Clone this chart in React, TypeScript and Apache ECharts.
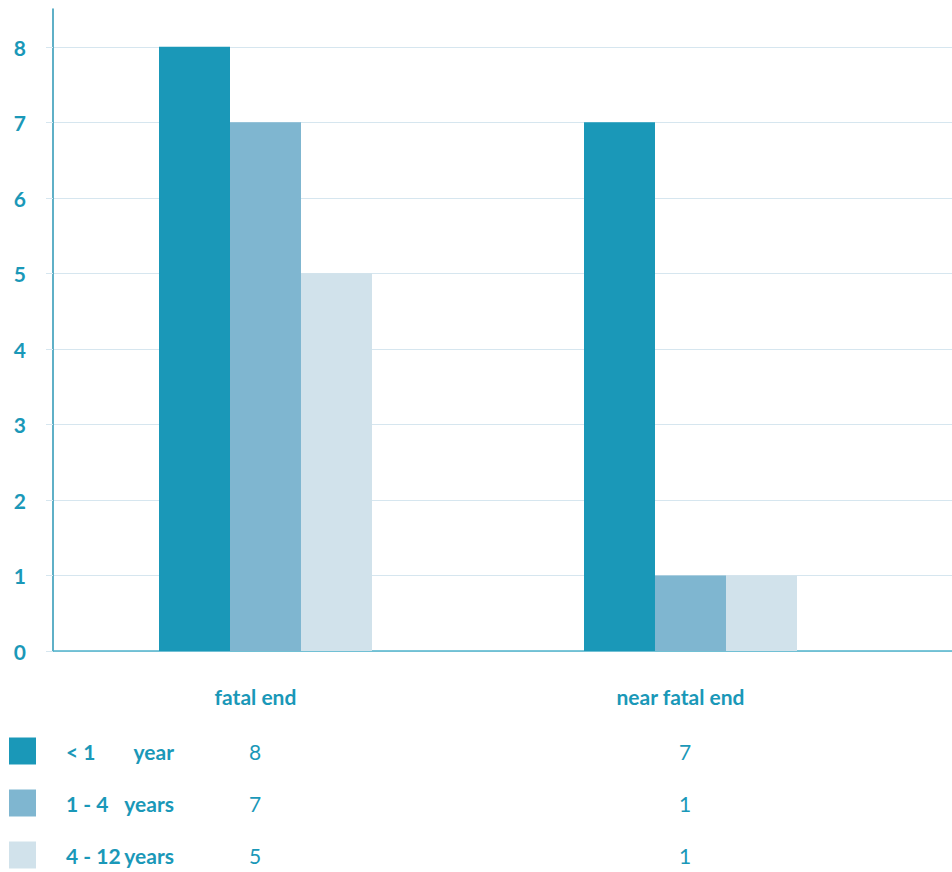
import React, { useEffect, useRef } from "react";
import * as echarts from "echarts";

const categories = ["fatal end", "near fatal end"];
const seriesNames = ["< 1 year", "1 - 4 years", "4 - 12 years"];
const legendLeft = ["< 1", "1 - 4", "4 - 12"];
const legendRight = ["year", "years", "years"];
const lessThan1 = [8, 7];
const oneToFour = [7, 1];
const fourToTwelve = [5, 1];
const yTicks = [0, 1, 2, 3, 4, 5, 6, 7, 8];

const TEAL = "#1a98b8";
const colors = ["#1a98b8", "#7fb6d0", "#d1e2eb"];
const FONT = "Lato, 'Open Sans', sans-serif";

export default function App() {
  const ref = useRef<HTMLDivElement>(null);
  useEffect(() => {
    document.body.style.margin = "0";
    const chart = echarts.init(ref.current!, null, { renderer: "svg" });
    const values = [lessThan1, oneToFour, fourToTwelve];
    const rowY = [751, 803, 855];
    const colX = [255, 685];
    const graphics: any[] = [];
    values.forEach((vals, i) => {
      graphics.push({
        type: "rect",
        shape: { x: 9, y: rowY[i] - 13.5, width: 27, height: 27 },
        style: { fill: colors[i] },
      });
      graphics.push({
        type: "text",
        x: 66,
        y: rowY[i],
        style: { text: legendLeft[i], fill: TEAL, font: `bold 21px ${FONT}`, textVerticalAlign: "middle", textAlign: "left" },
      });
      graphics.push({
        type: "text",
        x: 174,
        y: rowY[i],
        style: { text: legendRight[i], fill: TEAL, font: `bold 21px ${FONT}`, textVerticalAlign: "middle", textAlign: "right" },
      });
      vals.forEach((v, j) => {
        graphics.push({
          type: "text",
          x: colX[j],
          y: rowY[i],
          style: { text: String(v), fill: TEAL, font: `21px ${FONT}`, textVerticalAlign: "middle", textAlign: "center" },
        });
      });
    });

    chart.setOption({
      animation: false,
      grid: [
        { left: 53, right: 0, top: 47, height: 604 },
        { left: 53, width: 850, top: 9, height: 642 },
      ],
      xAxis: [
        {
          gridIndex: 0,
          type: "value",
          min: 0,
          max: 1,
          axisLine: { show: true, lineStyle: { color: "#4fb3cb", width: 1.5 } },
          axisTick: { show: false },
          axisLabel: { show: false },
          splitLine: { show: false },
        },
        {
          gridIndex: 1,
          type: "category",
          data: categories,
          axisLine: { show: false },
          axisTick: { show: false },
          axisLabel: {
            color: TEAL,
            fontFamily: FONT,
            fontWeight: "bold",
            fontSize: 21,
            margin: 35,
            padding: [0, 20, 0, 0],
          },
        },
      ],
      yAxis: [
        {
          gridIndex: 0,
          type: "value",
          min: yTicks[0],
          max: yTicks[yTicks.length - 1],
          interval: 1,
          axisLine: { show: false },
          axisTick: { show: true, length: 7, lineStyle: { color: "#d6e6ef" } },
          axisLabel: { color: TEAL, fontFamily: FONT, fontWeight: "bold", fontSize: 21, margin: 27 },
          splitLine: { show: true, lineStyle: { color: "#d6e6ef", width: 1 } },
        },
        {
          gridIndex: 1,
          type: "value",
          min: 0,
          max: 8.5,
          axisLine: { show: true, lineStyle: { color: "#2a96b5", width: 1.5 } },
          axisTick: { show: false },
          axisLabel: { show: false },
          splitLine: { show: false },
        },
      ],
      series: values.map((vals, i) => ({
        name: seriesNames[i],
        type: "bar",
        xAxisIndex: 1,
        yAxisIndex: 1,
        data: vals,
        barWidth: 71,
        barGap: "0%",
        itemStyle: { color: colors[i] },
      })),
      graphic: graphics,
    });
    return () => chart.dispose();
  }, []);
  return <div ref={ref} style={{ position: "absolute", left: 0, top: 0, width: 952, height: 872 }} />;
}
